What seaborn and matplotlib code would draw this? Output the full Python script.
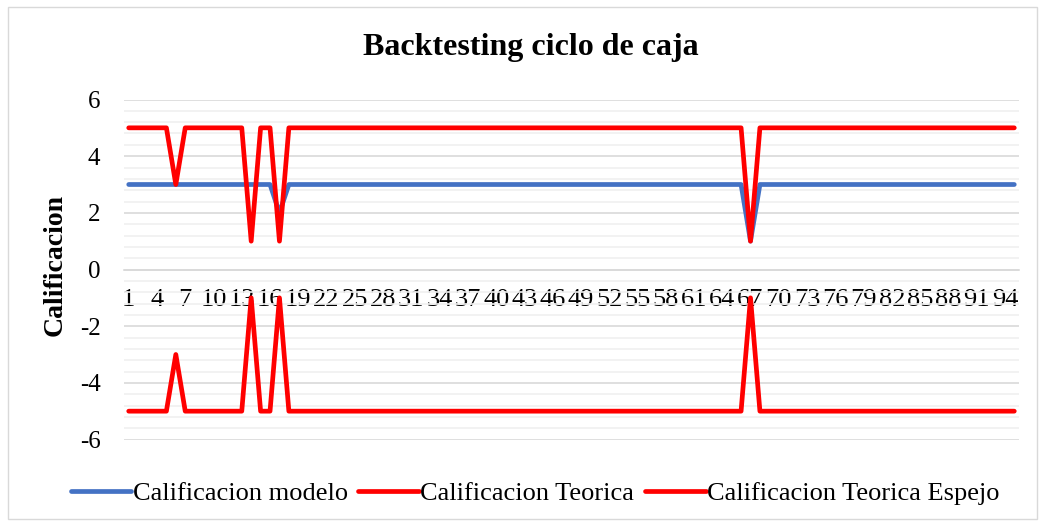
import matplotlib
matplotlib.use("Agg")
import matplotlib.pyplot as plt
from matplotlib.ticker import MultipleLocator
from matplotlib.patches import Rectangle
import seaborn as sns
import pandas as pd

# ---- data -------------------------------------------------------------
periodos = list(range(1, 96))  # categories 1..95

calificacion_modelo = [
    3, 3, 3, 3, 3, 3, 3, 3, 3, 3,   # 1-10
    3, 3, 3, 3, 3, 3, 2, 3, 3, 3,   # 11-20
    3, 3, 3, 3, 3, 3, 3, 3, 3, 3,   # 21-30
    3, 3, 3, 3, 3, 3, 3, 3, 3, 3,   # 31-40
    3, 3, 3, 3, 3, 3, 3, 3, 3, 3,   # 41-50
    3, 3, 3, 3, 3, 3, 3, 3, 3, 3,   # 51-60
    3, 3, 3, 3, 3, 3, 1, 3, 3, 3,   # 61-70
    3, 3, 3, 3, 3, 3, 3, 3, 3, 3,   # 71-80
    3, 3, 3, 3, 3, 3, 3, 3, 3, 3,   # 81-90
    3, 3, 3, 3, 3,                  # 91-95
]

calificacion_teorica = [
    5, 5, 5, 5, 5, 3, 5, 5, 5, 5,
    5, 5, 5, 1, 5, 5, 1, 5, 5, 5,
    5, 5, 5, 5, 5, 5, 5, 5, 5, 5,
    5, 5, 5, 5, 5, 5, 5, 5, 5, 5,
    5, 5, 5, 5, 5, 5, 5, 5, 5, 5,
    5, 5, 5, 5, 5, 5, 5, 5, 5, 5,
    5, 5, 5, 5, 5, 5, 1, 5, 5, 5,
    5, 5, 5, 5, 5, 5, 5, 5, 5, 5,
    5, 5, 5, 5, 5, 5, 5, 5, 5, 5,
    5, 5, 5, 5, 5,
]

calificacion_teorica_espejo = [
    -5, -5, -5, -5, -5, -3, -5, -5, -5, -5,
    -5, -5, -5, -1, -5, -5, -1, -5, -5, -5,
    -5, -5, -5, -5, -5, -5, -5, -5, -5, -5,
    -5, -5, -5, -5, -5, -5, -5, -5, -5, -5,
    -5, -5, -5, -5, -5, -5, -5, -5, -5, -5,
    -5, -5, -5, -5, -5, -5, -5, -5, -5, -5,
    -5, -5, -5, -5, -5, -5, -1, -5, -5, -5,
    -5, -5, -5, -5, -5, -5, -5, -5, -5, -5,
    -5, -5, -5, -5, -5, -5, -5, -5, -5, -5,
    -5, -5, -5, -5, -5,
]

tick_labels = [str(p) for p in periodos[::3]]

titulo = "Backtesting ciclo de caja"
ylabel = "Calificacion"
series_names = ["Calificacion modelo", "Calificacion Teorica",
                "Calificacion Teorica Espejo"]

# ---- styling ----------------------------------------------------------
sns.set_theme(style="white")
plt.rcParams["font.family"] = ["Liberation Serif", "DejaVu Serif"]
plt.rcParams["text.color"] = "black"
plt.rcParams["axes.labelcolor"] = "black"
plt.rcParams["xtick.color"] = "black"
plt.rcParams["ytick.color"] = "black"

BLUE = "#4472C4"
RED = "#FF0000"

fig = plt.figure(figsize=(10.44, 5.25), dpi=100)
ax = fig.add_axes([124 / 1044, 1 - 439.5 / 525, 895 / 1044, 340 / 525])

df = pd.DataFrame({
    "Periodo": periodos,
    series_names[0]: calificacion_modelo,
    series_names[1]: calificacion_teorica,
    series_names[2]: calificacion_teorica_espejo,
})

colors = [BLUE, RED, RED]
for name, col in zip(series_names, colors):
    sns.lineplot(data=df, x="Periodo", y=name, ax=ax, color=col,
                 linewidth=3.4, label=name, legend=False,
                 solid_capstyle="round", solid_joinstyle="round", zorder=3)

ax.set_xlim(0.5, 95.5)
ax.set_ylim(-6, 6)

ax.yaxis.set_major_locator(MultipleLocator(2))
ax.yaxis.set_minor_locator(MultipleLocator(0.4))
ax.grid(which="major", axis="y", color="#d9d9d9", linewidth=1.2, zorder=0)
ax.grid(which="minor", axis="y", color="#f0f0f0", linewidth=1.2, zorder=0)
ax.grid(which="major", axis="x", visible=False)
ax.set_axisbelow(True)

ax.set_xticks(periodos[::3])
ax.set_xticklabels(tick_labels)
ax.tick_params(axis="x", length=0, pad=14, labelsize=19, colors="black")
ax.tick_params(axis="y", which="both", length=0, pad=17, labelsize=18,
               colors="black")
ax.set_yticklabels([f"{int(v)}" for v in ax.get_yticks()])

for s in ["top", "right", "left"]:
    ax.spines[s].set_visible(False)
ax.spines["bottom"].set_position(("data", 0))
ax.spines["bottom"].set_color("#d9d9d9")
ax.spines["bottom"].set_linewidth(1.2)

ax.set_xlabel("")
ax.set_ylabel(ylabel, fontsize=20, fontweight="bold", color="black")
ax.yaxis.set_label_coords((55 - 124) / 895, (439.5 - 265) / 340)
ax.yaxis.label.set_verticalalignment("center")

fig.text(531 / 1044, 1 - 48 / 525, titulo, ha="center", va="center",
         fontsize=23, fontweight="bold", color="black")

handles, labels = ax.get_legend_handles_labels()
leg = fig.legend(handles, labels, loc="center",
                 bbox_to_anchor=(535 / 1044, 1 - 493 / 525), ncol=3,
                 frameon=False, fontsize=19, handlelength=2.3,
                 handletextpad=0.05, columnspacing=0.4, borderaxespad=0)
for t in leg.get_texts():
    t.set_color("black")

fig.patches.append(Rectangle((7.5 / 1044, 6.5 / 525), 1029 / 1044, 512 / 525,
                             transform=fig.transFigure, fill=False,
                             edgecolor="#d9d9d9", linewidth=1.0))

fig.savefig("out.png", dpi=100)
